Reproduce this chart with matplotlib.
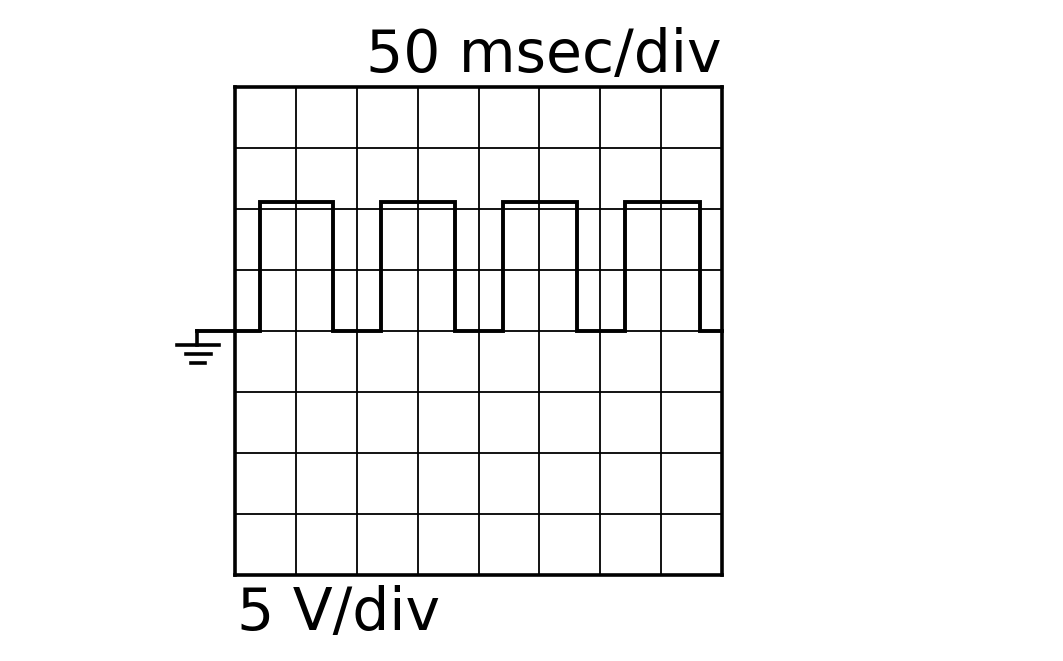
import matplotlib.pyplot as plt
import numpy as np

# scope trace: 50 ms/div, 5 V/div
rise_ms = [20.5, 120.0, 220.0, 320.5]
fall_ms = [80.5, 181.0, 281.0, 382.0]
v_high = 10.6
v_low = 0.0
t_start = -31.0
t_end = 400.0

# build step trace
t = [t_start]
v = [v_low]
for r, f in zip(rise_ms, fall_ms):
    t += [r, r, f, f]
    v += [v_low, v_high, v_high, v_low]
t.append(t_end)
v.append(v_low)

fig = plt.figure(figsize=(10.63, 6.61), dpi=100)
ax = fig.add_axes([235/1063, 86/661, 487/1063, 488/661])
ax.set_xlim(0, 400)
ax.set_ylim(-20, 20)

for x in np.arange(50, 400, 50):
    ax.axvline(x, c='k', lw=1.3)
for y in np.arange(-15, 20, 5):
    ax.axhline(y, c='k', lw=1.3)

ax.plot(t, v, c='k', lw=2.8, clip_on=False, solid_joinstyle='miter')

# ground symbol
ax.plot([-31, -31], [0, -1.15], c='k', lw=2.6, clip_on=False)
ax.plot([-48, -13], [-1.15, -1.15], c='k', lw=2.6, clip_on=False)
ax.plot([-40.5, -19.5], [-1.9, -1.9], c='k', lw=2.6, clip_on=False)
ax.plot([-36, -24.5], [-2.65, -2.65], c='k', lw=2.6, clip_on=False)

for s in ax.spines.values():
    s.set_linewidth(2.6)
ax.set_xticks([])
ax.set_yticks([])

fig.text(722/1063, 1 - 72/661, '50 msec/div', ha='right', va='baseline',
         fontsize=42, family='DejaVu Sans')
fig.text(237/1063, 1 - 630/661, '5 V/div', ha='left', va='baseline',
         fontsize=42, family='DejaVu Sans')

plt.savefig('out.png', dpi=100)
